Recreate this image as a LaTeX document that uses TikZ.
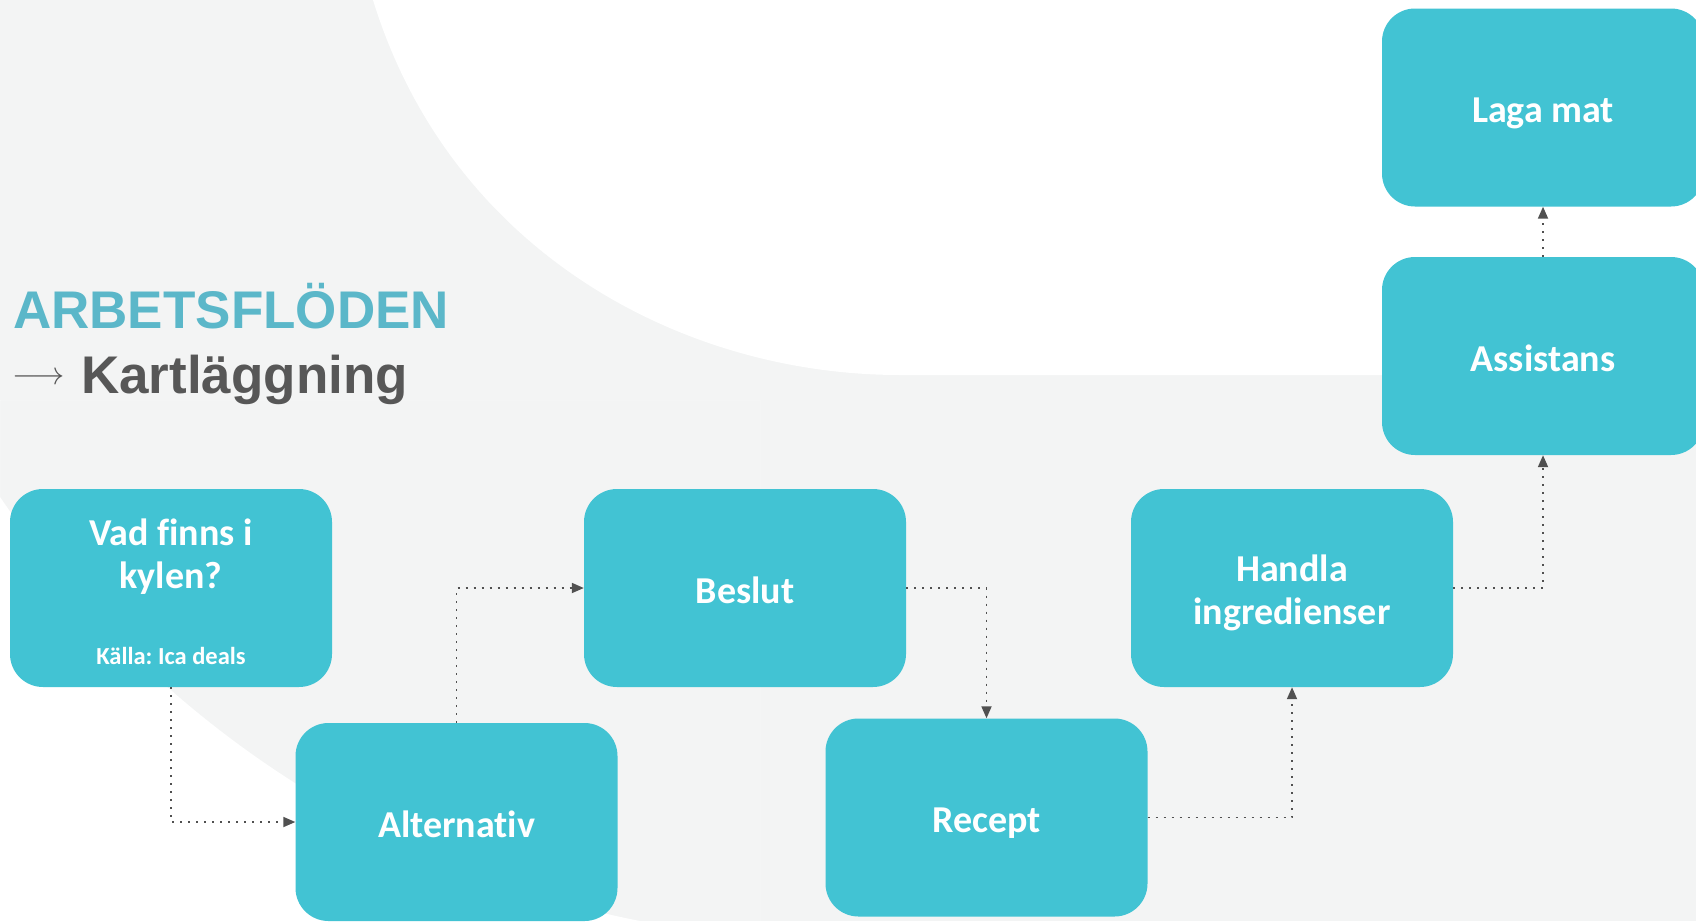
\documentclass[tikz,border=0pt]{standalone}
\usepackage{fontspec}
\setmainfont{Liberation Sans}
\newfontfamily\boxfont{Carlito}[Ligatures={NoCommon,NoContextual,NoRare}]
\usetikzlibrary{arrows.meta}
\definecolor{bggray}{HTML}{F3F4F4}
\definecolor{boxcol}{HTML}{42C3D3}
\definecolor{titlecol}{HTML}{5BB7C9}
\definecolor{darktxt}{HTML}{575757}
\definecolor{linecol}{HTML}{505050}
\frenchspacing
\begin{document}
\begin{tikzpicture}[x=1pt,y=-1pt,
  flowbox/.style={draw=none, fill=boxcol, rounded corners=33pt, minimum width=322pt, minimum height=198pt, inner sep=0pt, text=white, font=\boxfont\bfseries\fontsize{38}{43}\selectfont, align=center, text height=30pt, text depth=0pt},
  boxtext/.style={inner sep=0pt, text=white, font=\boxfont\bfseries\fontsize{38}{43}\selectfont, align=center},
  smalltext/.style={inner sep=0pt, text=white, font=\boxfont\bfseries\fontsize{24.5}{28}\selectfont},
  titletext/.style={inner sep=0pt, anchor=base west, font=\bfseries\fontsize{53}{60}\selectfont},
  conn/.style={draw=linecol, line width=1.8pt, dash pattern=on 1.8pt off 6.2pt, -{Triangle[length=12pt,width=10pt,fill=linecol]}},
]
\useasboundingbox (0,0) rectangle (1696,921);
\clip (0,0) rectangle (1696,921);
% background
\fill[bggray] (0,0) rectangle (1696,921);
\fill[white] (373,0) .. controls (450,250) and (680,375) .. (900,375) -- (1696,375) -- (1696,0) -- cycle;
\begin{scope}
  \clip (0,400) rectangle (760,921);
  \fill[white, even odd rule] (0,400) rectangle (760,921) (836,-70) circle (1010);
\end{scope}

% title
\node[titletext, text=titlecol] (t1) at (13,328) {ARBETSFLÖDEN};
\node[titletext, text=darktxt] (t2) at (81,393) {Kartläggning};
\node[inner sep=0pt, text=darktxt] (tarrow) at (39,379) {\resizebox{52pt}{!}{$\longrightarrow$}};

% boxes
\node[flowbox] (vad) at (171,588) {};
\node[boxtext, anchor=base] (vadtxt) at (171,545) {Vad finns i};
\node[boxtext, anchor=base] (vadtxt2) at (171,588) {kylen?};
\node[smalltext, anchor=base] (kalla) at (171,664) {\frenchspacing Källa: Ica deals};
\node[flowbox] (alt) at (456.5,822) {Alternativ};
\node[flowbox] (beslut) at (745,588) {Beslut};
\node[flowbox] (recept) at (986.5,817.5) {Recept};
\node[flowbox] (handla) at (1292,588) {};
\node[boxtext, anchor=base] (handtxt) at (1292,581) {Handla};
\node[boxtext, anchor=base] (handtxt2) at (1292,624) {ingredienser};
\node[flowbox] (assist) at (1543,356) {Assistans};
\node[flowbox] (laga) at (1543,107.5) {Laga mat};

% connectors
\draw[conn] (vad.south) |- (alt.west);
\draw[conn] (alt.north) |- (beslut.west);
\draw[conn] (beslut.east) -| (recept.north);
\draw[conn] (recept.east) -| (handla.south);
\draw[conn] (handla.east) -| (assist.south);
\draw[conn] (assist.north) -- (laga.south);
\end{tikzpicture}
\end{document}
